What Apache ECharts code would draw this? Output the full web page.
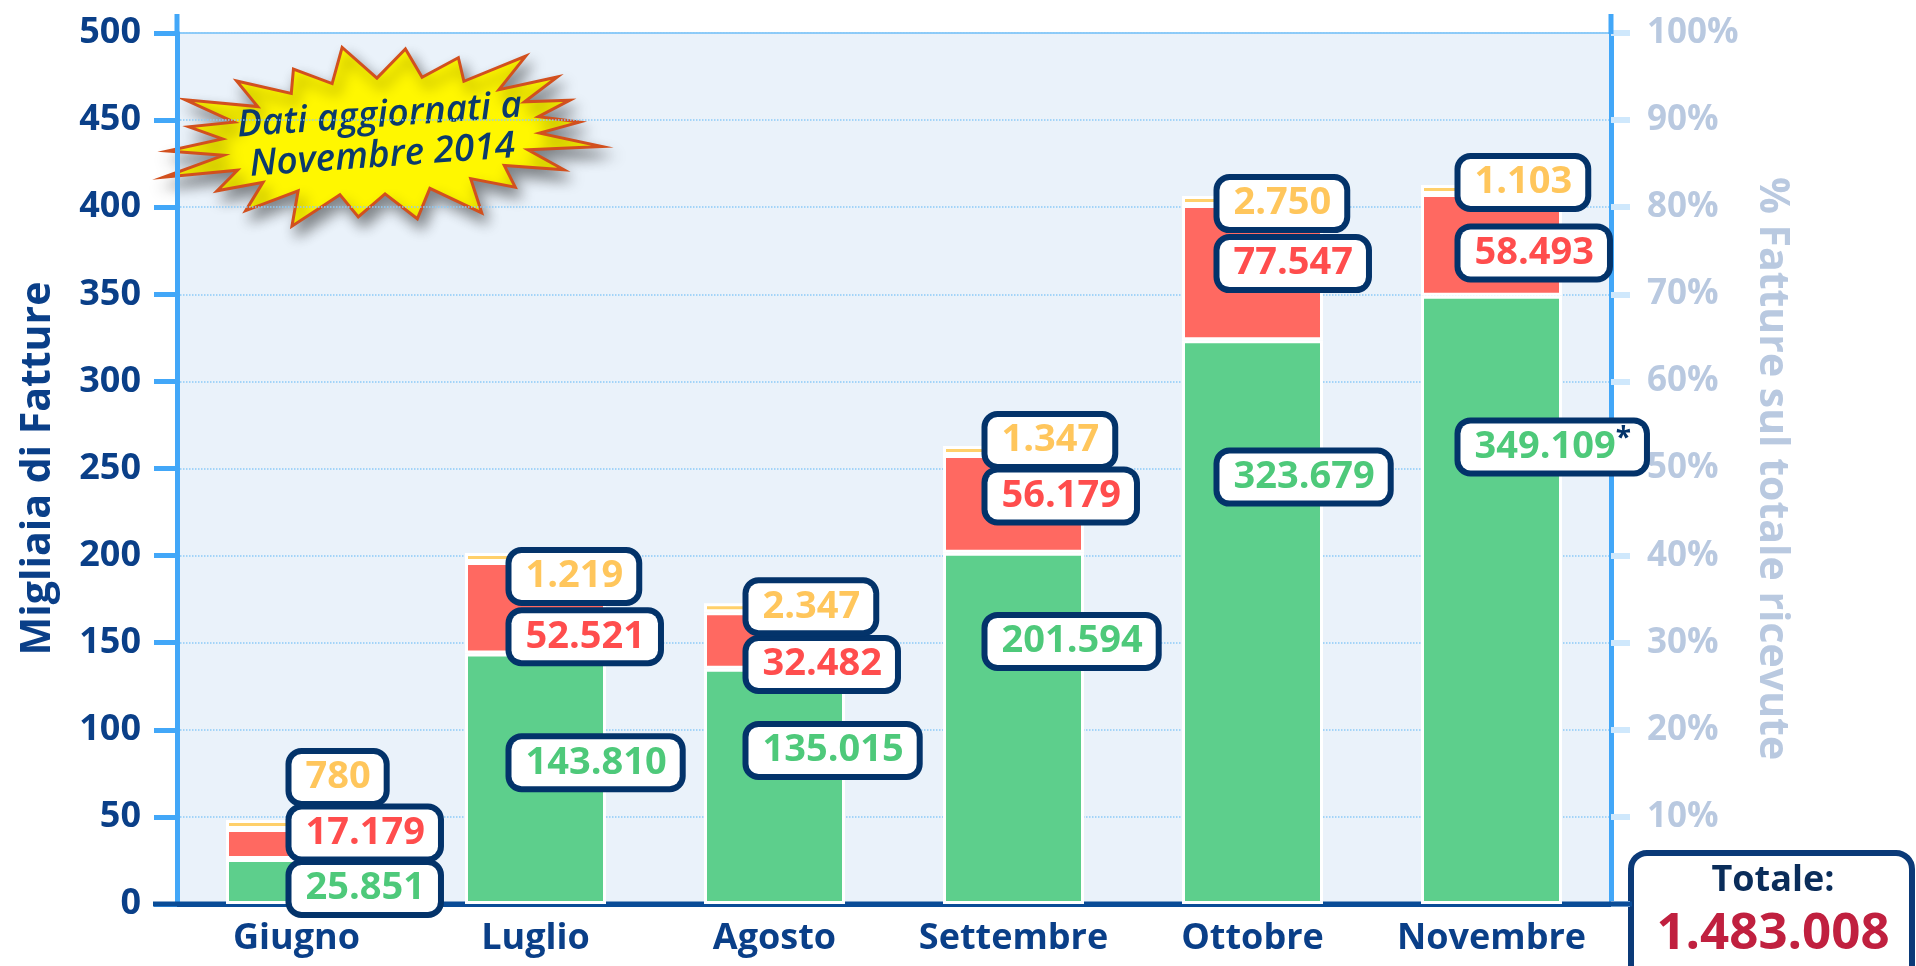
<!DOCTYPE html>
<html>
<head>
<meta charset="utf-8">
<title>Fatture ricevute</title>
<script src="https://cdn.jsdelivr.net/npm/echarts@6/dist/echarts.min.js"></script>
<style>
  html, body { margin: 0; padding: 0; background: #fff; }
  #chart { width: 1916px; height: 966px; }
</style>
</head>
<body>
<div id="chart"></div>
<script>
// migliaia di fatture per mese
const categories = ['Giugno', 'Luglio', 'Agosto', 'Settembre', 'Ottobre', 'Novembre']
const greenValues = [25.851, 143.810, 135.015, 201.594, 323.679, 349.109]
const redValues = [17.179, 52.521, 32.482, 56.179, 77.547, 58.493]
const yellowValues = [0.780, 1.219, 2.347, 1.347, 2.750, 1.103]
const totalText = '1.483.008'

// label box placement (pixels, relative to the segment centre)
const labelDx = [-5, -24, -26, -26, -33, -31]
const greenDy = [7, -16, -36, -87, -145, -153]
const redDy = [-11, 29, 24, -8, -9, 8]
const yellowDy = [-47, 19, -1, -10, 3, -7]

const navy = '#0a3f88'
const boxBorder = '#03336a'
const font = 'Open Sans'

function fmt (v) {
  return String(Math.round(v * 1000)).replace(/\B(?=(\d{3})+(?!\d))/g, '.')
}

function labelStyle (color) {
  return {
    show: true,
    position: 'inside',
    align: 'left',
    verticalAlign: 'middle',
    color: color,
    fontFamily: font,
    fontSize: 38,
    fontWeight: 'bold',
    lineHeight: 43,
    backgroundColor: '#fff',
    borderColor: boxBorder,
    borderWidth: 6,
    borderRadius: 10,
    padding: [2, 13, 2, 14],
    rich: {
      s: { color: boxBorder, fontFamily: font, fontSize: 28, fontWeight: 'bold', verticalAlign: 'top', lineHeight: 43 }
    }
  }
}

function items (values, dy) {
  return values.map((v, i) => ({ value: v, label: { offset: [labelDx[i], dy[i]] } }))
}

// starburst outline for the "Dati aggiornati" badge
function starPoints (n, rx, ry, irx, iry) {
  const pts = []
  for (let i = 0; i < n * 2; i++) {
    const a = Math.PI * i / n
    const k = 1 + 0.07 * (((i * 7) % 3) - 1)
    const outer = i % 2 === 0
    const x = (outer ? rx * k : irx) * Math.cos(a)
    const y = (outer ? ry * k : iry) * Math.sin(a)
    pts.push([x, y])
  }
  return pts
}

const chart = echarts.init(document.getElementById('chart'))

const barCommon = {
  type: 'bar',
  stack: 'fatture',
  barWidth: 141
}

chart.setOption({
  animation: false,
  grid: {
    left: 177,
    right: 305,
    top: 33,
    bottom: 62,
    show: true,
    backgroundColor: '#eaf2fa',
    borderWidth: 1.5,
    borderColor: '#6fbef7'
  },
  xAxis: {
    type: 'category',
    data: categories,
    axisLine: { lineStyle: { color: '#0a4c97', width: 5 } },
    axisTick: { length: 20, lineStyle: { color: '#0a4c97', width: 4 } },
    axisLabel: { interval: 0, color: navy, fontFamily: font, fontSize: 36, fontWeight: 'bold', margin: 17 }
  },
  yAxis: [{
    type: 'value',
    min: 0,
    max: 500,
    interval: 50,
    position: 'left',
    name: 'Migliaia di Fatture',
    nameLocation: 'middle',
    nameGap: 118,
    nameTextStyle: { color: navy, fontFamily: font, fontSize: 41, fontWeight: 'bold' },
    axisLine: { show: true, lineStyle: { color: '#42a7f8', width: 5 } },
    axisTick: { show: true, length: 23, lineStyle: { color: '#42a7f8', width: 5 } },
    axisLabel: { color: navy, fontFamily: font, fontSize: 36, fontWeight: 'bold', margin: 36 },
    splitLine: { show: true, lineStyle: { color: '#8ccaf7', type: 'dotted', width: 1.5 } }
  }, {
    type: 'value',
    min: 0,
    max: 100,
    interval: 10,
    position: 'right',
    name: '% Fatture sul totale ricevute',
    nameLocation: 'middle',
    nameRotate: -90,
    nameGap: 140,
    nameTextStyle: { color: '#b9c9e0', fontFamily: font, fontSize: 41, fontWeight: 'bold' },
    axisLine: { show: true, lineStyle: { color: '#42a7f8', width: 5 } },
    axisTick: { show: true, length: 19, lineStyle: { color: '#cfe8fc', width: 6 } },
    axisLabel: {
      color: '#b9c9e0', fontFamily: font, fontSize: 35, fontWeight: 'bold', margin: 36,
      formatter: v => v === 0 ? '' : v + '%'
    },
    splitLine: { show: false }
  }],
  series: [
    Object.assign({}, barCommon, {
      name: 'Verde',
      data: items(greenValues, greenDy),
      itemStyle: { color: '#5dcf8c', borderColor: '#fff', borderWidth: 3 },
      label: Object.assign(labelStyle('#4ec97a'), {
        formatter: p => p.name === 'Novembre' ? fmt(p.value) + '{s|*}' : fmt(p.value)
      })
    }),
    Object.assign({}, barCommon, {
      name: 'Rosso',
      data: items(redValues, redDy),
      itemStyle: { color: '#ff6961', borderColor: '#fff', borderWidth: 3 },
      label: Object.assign(labelStyle('#ff4d4d'), { formatter: p => fmt(p.value) })
    }),
    Object.assign({}, barCommon, {
      name: 'Giallo',
      barMinHeight: 9,
      data: items(yellowValues, yellowDy),
      itemStyle: { color: '#ffd06a', borderColor: '#fff', borderWidth: 3 },
      label: Object.assign(labelStyle('#ffc65c'), { formatter: p => fmt(p.value) })
    })
  ],
  graphic: [
    // axis lines run a little past the plot area
    { type: 'line', z: 1, shape: { x1: 177, y1: 14, x2: 177, y2: 34 }, style: { stroke: '#42a7f8', lineWidth: 5 } },
    { type: 'line', z: 1, shape: { x1: 1611, y1: 14, x2: 1611, y2: 34 }, style: { stroke: '#42a7f8', lineWidth: 5 } },
    { type: 'line', z: 1, shape: { x1: 153, y1: 904, x2: 1632, y2: 904 }, style: { stroke: '#0a4c97', lineWidth: 5 } },
    {
      type: 'group',
      x: 381,
      y: 136,
      rotation: 0.07,
      z: 50,
      children: [{
        type: 'polygon',
        shape: { points: starPoints(22, 214, 86, 160, 58) },
        style: {
          fill: '#fff700',
          stroke: '#d2501e',
          lineWidth: 3,
          shadowBlur: 14,
          shadowColor: 'rgba(0,0,0,0.45)',
          shadowOffsetX: 5,
          shadowOffsetY: 9
        }
      }, {
        type: 'text',
        x: 0,
        y: 0,
        style: {
          text: 'Dati aggiornati a\nNovembre 2014',
          font: 'italic 600 37px "Open Sans"',
          fill: '#0b3a6c',
          align: 'center',
          verticalAlign: 'middle',
          lineHeight: 40
        }
      }]
    },
    {
      type: 'group',
      z: 100,
      children: [{
        type: 'rect',
        shape: { x: 1631, y: 853, width: 281, height: 150, r: 16 },
        style: { fill: '#fff', stroke: '#0b3a78', lineWidth: 6 }
      }, {
        type: 'text',
        x: 1773,
        y: 881,
        style: { text: 'Totale:', font: 'bold 36px "Open Sans"', fill: '#0a2d5a', align: 'center', verticalAlign: 'middle' }
      }, {
        type: 'text',
        x: 1773,
        y: 934,
        style: { text: totalText, font: 'bold 51px "Open Sans"', fill: '#c0203f', align: 'center', verticalAlign: 'middle' }
      }]
    }
  ]
})
</script>
</body>
</html>
